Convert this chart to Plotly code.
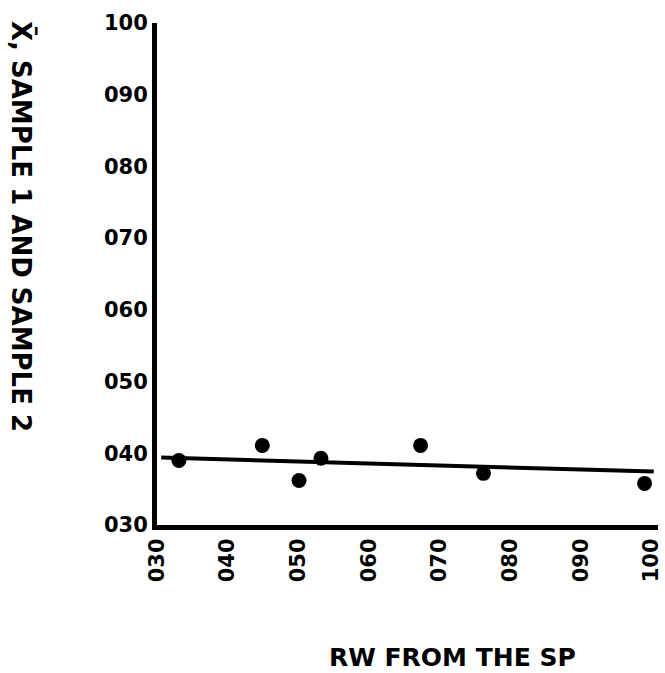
import plotly.graph_objects as go

# Observed points: distance (RW from the SP) vs. mean of samples 1 and 2
rw_distance = [33.1, 44.9, 50.1, 53.2, 67.3, 76.2, 99.0]
sample_mean = [39.0, 41.1, 36.2, 39.3, 41.1, 37.2, 35.8]

# Fitted trend line endpoints
trend_x = [30.6, 100.3]
trend_y = [39.4, 37.45]

# Axis ticks and their printed labels
tick_values = [30, 40, 50, 60, 70, 80, 90, 100]
tick_labels = ["030", "040", "050", "060", "070", "080", "090", "100"]

x_title = "RW FROM THE SP"
y_title = "X\u0304, SAMPLE 1 AND SAMPLE 2"

FONT = "DejaVu Sans"

fig = go.Figure()

fig.add_trace(go.Scatter(
    x=trend_x, y=trend_y, mode="lines",
    line=dict(color="black", width=4),
    hoverinfo="skip", showlegend=False, cliponaxis=False,
))

fig.add_trace(go.Scatter(
    x=rw_distance, y=sample_mean, mode="markers",
    marker=dict(color="black", size=15),
    showlegend=False, cliponaxis=False,
))

axis_common = dict(
    showline=True, linecolor="black", linewidth=5,
    showgrid=False, zeroline=False, automargin=False,
    ticks="", tickvals=tick_values, ticktext=tick_labels,
    ticklabeloverflow="allow",
    tickfont=dict(family=FONT, size=21, color="black", weight="bold"),
)

fig.update_xaxes(range=[30, 100.9], tickangle=-90, **axis_common)
fig.update_yaxes(range=[30, 100], **axis_common)

fig.add_annotation(
    text=x_title, xref="paper", yref="paper",
    x=(452 - 157) / 501, y=(525 - 657) / 502,
    xanchor="center", yanchor="middle", showarrow=False,
    font=dict(family=FONT, size=25, color="black", weight="bold"),
)

fig.add_annotation(
    text=y_title, xref="paper", yref="paper",
    x=(22 - 157) / 501, y=(525 - 226) / 502,
    xanchor="center", yanchor="middle", showarrow=False, textangle=90,
    font=dict(family=FONT, size=26, color="black", weight="bold"),
)

fig.update_layout(
    width=665, height=673,
    margin=dict(l=157, r=7, t=23, b=148),
    paper_bgcolor="white", plot_bgcolor="white",
)

fig.write_html("out.html")
